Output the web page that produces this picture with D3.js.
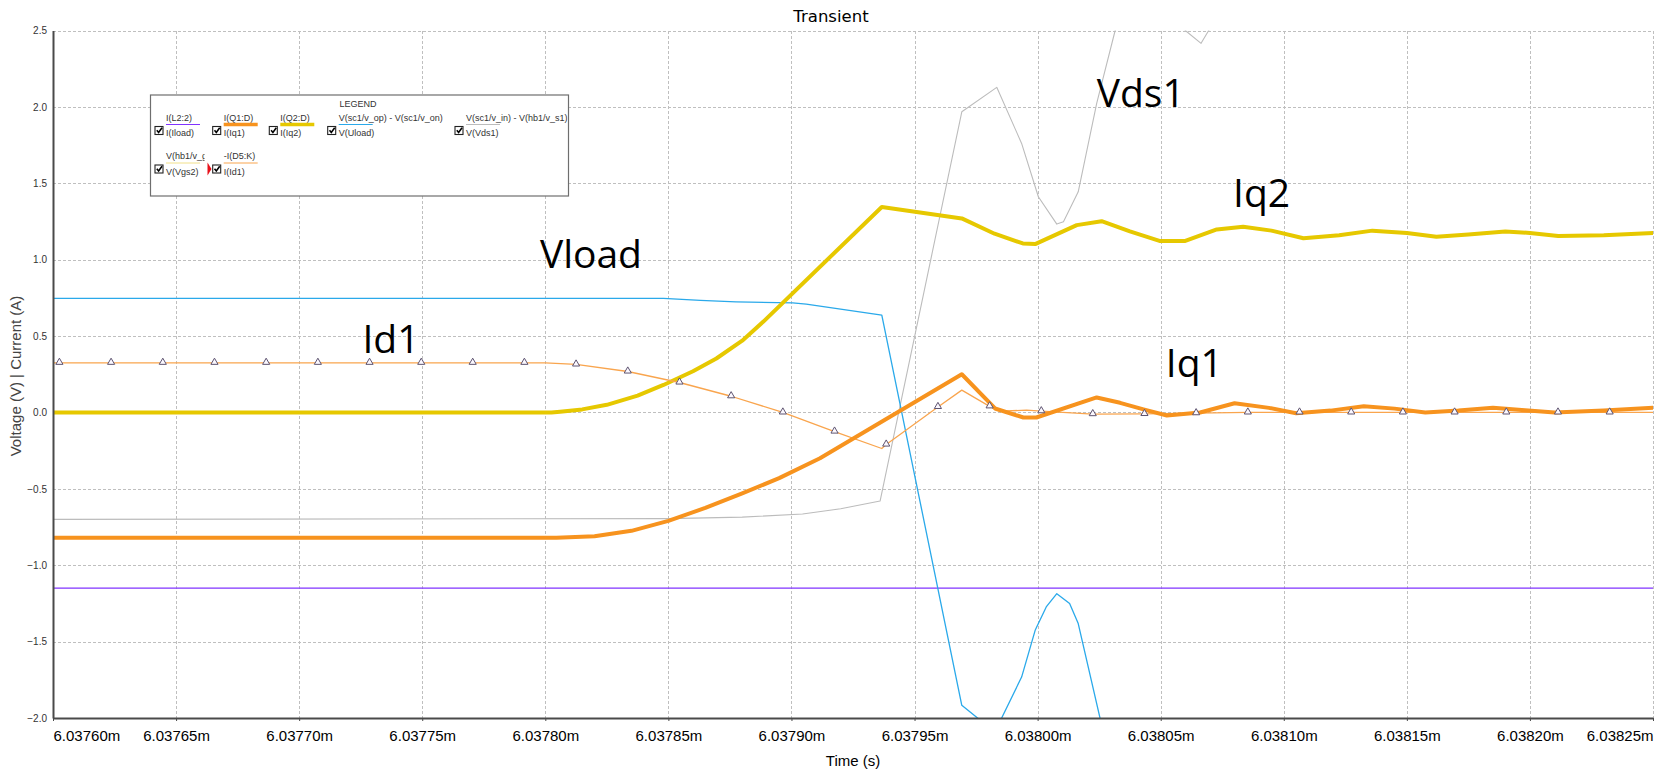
<!DOCTYPE html>
<html>
<head>
<meta charset="utf-8">
<script src="https://cdn.jsdelivr.net/npm/d3@7"></script>
<style>
  body { margin: 0; background: #fff; }
  svg { display: block; }
</style>
</head>
<body>
<svg id="chart" width="1662" height="772"></svg>
<script>
// Time axis in milliseconds (labels carry the "m" suffix)
const xTickValues = [6.03760, 6.03765, 6.03770, 6.03775, 6.03780, 6.03785, 6.03790,
                     6.03795, 6.03800, 6.03805, 6.03810, 6.03815, 6.03820, 6.03825];
const yTickValues = [-2.0, -1.5, -1.0, -0.5, 0.0, 0.5, 1.0, 1.5, 2.0, 2.5];

// I(Iload)
const iloadTime  = [6.0376000, 6.0382500];
const iloadValue = [-1.15, -1.15];

// V(Vds1)
const vds1Time  = [6.0376000, 6.0378500, 6.0378800, 6.0379045, 6.0379200, 6.0379360, 6.0379692,
                   6.0379834, 6.0379935, 6.0380003, 6.0380078, 6.0380105, 6.0380165, 6.0380240,
                   6.0380315, 6.0380475, 6.0380600, 6.0380664, 6.0380695, 6.0380900, 6.0382500];
const vds1Value = [-0.70, -0.695, -0.685, -0.665, -0.63, -0.58, 1.968,
                   2.128, 1.761, 1.412, 1.233, 1.248, 1.444, 2.023,
                   2.50, 2.95, 2.50, 2.416, 2.50, 3.00, 3.00];

// V(Uload)
const uloadTime  = [6.0376000, 6.0378480, 6.0378630, 6.0378775, 6.0379005, 6.0379060, 6.0379367,
                    6.0379692, 6.0379759, 6.0379800, 6.0379854, 6.0379935, 6.0379990, 6.0380035,
                    6.0380078, 6.0380130, 6.0380165, 6.0380254, 6.0380350];
const uloadValue = [0.746, 0.746, 0.733, 0.724, 0.717, 0.709, 0.637,
                    -1.917, -2.004, -2.06, -2.0, -1.732, -1.426, -1.273,
                    -1.186, -1.251, -1.382, -2.004, -2.6];

// I(Iq2)
const iq2Time  = [6.0376000, 6.0378025, 6.0378060, 6.0378150, 6.0378250, 6.0378375, 6.0378480,
                  6.0378600, 6.0378695, 6.0378800, 6.0378885, 6.0379367, 6.0379692, 6.0379825,
                  6.0379940, 6.0379990, 6.0380159, 6.0380260, 6.0380375, 6.0380495, 6.0380600,
                  6.0380728, 6.0380835, 6.0380950, 6.0381080, 6.0381225, 6.0381360, 6.0381500,
                  6.0381620, 6.0381750, 6.0381900, 6.0382000, 6.0382115, 6.0382300, 6.0382500];
const iq2Value = [0.0, 0.0, 0.005, 0.02, 0.05, 0.11, 0.18,
                  0.27, 0.353, 0.47, 0.593, 1.345, 1.27, 1.17,
                  1.106, 1.102, 1.226, 1.252, 1.185, 1.123, 1.123,
                  1.198, 1.215, 1.19, 1.14, 1.16, 1.19, 1.175,
                  1.15, 1.165, 1.185, 1.175, 1.155, 1.16, 1.175];

// -I(D5:K) = I(Id1)
const id1Time  = [6.0376000, 6.0376026, 6.0376236, 6.0376446, 6.0376656, 6.0376866, 6.0377076,
                  6.0377286, 6.0377496, 6.0377705, 6.0377915, 6.0378000, 6.0378125, 6.0378335,
                  6.0378545, 6.0378755, 6.0378965, 6.0379175, 6.0379367, 6.0379385, 6.0379595,
                  6.0379692, 6.0379805, 6.0379847, 6.0379955, 6.0380015, 6.0380224, 6.0380434,
                  6.0380644, 6.0380854, 6.0381064, 6.0381274, 6.0381484, 6.0381694, 6.0381904,
                  6.0382114, 6.0382324, 6.0382500];
const id1Value = [0.325, 0.325, 0.325, 0.325, 0.325, 0.325, 0.325,
                  0.325, 0.325, 0.325, 0.325, 0.325, 0.314, 0.268,
                  0.196, 0.106, 0.0, -0.125, -0.236, -0.21, 0.036,
                  0.146, 0.04, 0.008, 0.015, 0.008, -0.011, -0.010,
                  -0.005, 0.0, 0.0, 0.0, 0.0, 0.0, 0.0,
                  0.0, 0.0, 0.0];
// Sample points that carry a triangle marker
const id1MarkerTime = [6.0376026, 6.0376236, 6.0376446, 6.0376656, 6.0376866, 6.0377076, 6.0377286,
                       6.0377496, 6.0377705, 6.0377915, 6.0378125, 6.0378335, 6.0378545, 6.0378755,
                       6.0378965, 6.0379175, 6.0379385, 6.0379595, 6.0379805, 6.0380015, 6.0380224,
                       6.0380434, 6.0380644, 6.0380854, 6.0381064, 6.0381274, 6.0381484, 6.0381694,
                       6.0381904, 6.0382114, 6.0382324];

// I(Iq1)
const iq1Time  = [6.0376000, 6.0378045, 6.0378200, 6.0378350, 6.0378500, 6.0378650, 6.0378800,
                  6.0378950, 6.0379116, 6.0379692, 6.0379827, 6.0379942, 6.0379995, 6.0380240,
                  6.0380335, 6.0380430, 6.0380525, 6.0380660, 6.0380800, 6.0380940, 6.0381050,
                  6.0381190, 6.0381325, 6.0381450, 6.0381575, 6.0381710, 6.0381850, 6.0381980,
                  6.0382100, 6.0382300, 6.0382500];
const iq1Value = [-0.82, -0.82, -0.81, -0.775, -0.71, -0.625, -0.53,
                  -0.43, -0.30, 0.25, 0.026, -0.033, -0.033, 0.098,
                  0.063, 0.02, -0.02, 0.0, 0.06, 0.03, -0.005,
                  0.012, 0.04, 0.025, 0.0, 0.012, 0.03, 0.015,
                  0.0, 0.012, 0.03];

// Legend entries: probe expression, alias, colour, stroke width
const legendTop    = ["I(L2:2)", "I(Q1:D)", "I(Q2:D)", "V(sc1/v_op) - V(sc1/v_on)",
                      "V(sc1/v_in) - V(hb1/v_s1)", "V(hb1/v_g", "-I(D5:K)"];
const legendBottom = ["I(Iload)", "I(Iq1)", "I(Iq2)", "V(Uload)", "V(Vds1)", "V(Vgs2)", "I(Id1)"];
const legendColor  = ["#8033ff", "#f7931e", "#e6c800", "#2aa9ea", "#bcbcbc", "#f1e08a", "#f9a54e"];
const legendWidth  = [1, 3.5, 3.5, 1, 1, 1, 1];

// Curve name labels (anchored at their baseline start)
const curveLabels = [
  { text: "Vds1",  t: 6.0380240, v: 2.000 },
  { text: "Iq2",   t: 6.0380794, v: 1.344 },
  { text: "Vload", t: 6.0377978, v: 0.943 },
  { text: "Id1",   t: 6.0377257, v: 0.390 },
  { text: "Iq1",   t: 6.0380521, v: 0.232 }
];

const W = 1662, H = 772;
const margin = { left: 53, right: 9, top: 30.5, bottom: 54 };
const x = d3.scaleLinear().domain([xTickValues[0], xTickValues[xTickValues.length - 1]])
  .range([margin.left, W - margin.right]);
const y = d3.scaleLinear().domain([-2.0, 2.5]).range([H - margin.bottom, margin.top]);

const svg = d3.select("#chart");
const FONT = "'Liberation Sans', Arial, sans-serif";

svg.append("defs").append("clipPath").attr("id", "plotClip")
  .append("rect")
  .attr("x", x.range()[0]).attr("y", y.range()[1])
  .attr("width", x.range()[1] - x.range()[0])
  .attr("height", y.range()[0] - y.range()[1]);

// Title
svg.append("text").attr("x", W / 2).attr("y", 21.5)
  .attr("text-anchor", "middle")
  .attr("font-family", "'DejaVu Sans', sans-serif").attr("font-size", 16.5)
  .attr("fill", "#000").text("Transient");

// Grid
const grid = svg.append("g").attr("stroke", "#bfbfbf").attr("stroke-width", 1)
  .attr("stroke-dasharray", "3,2").attr("shape-rendering", "crispEdges");
grid.selectAll("line.v").data(xTickValues.slice(1)).join("line").attr("class", "v")
  .attr("x1", d => Math.round(x(d)) + 0.5).attr("x2", d => Math.round(x(d)) + 0.5)
  .attr("y1", y.range()[1]).attr("y2", y.range()[0]);
grid.selectAll("line.h").data(yTickValues.filter(d => d > -2)).join("line").attr("class", "h")
  .attr("y1", d => Math.round(y(d)) + 0.5).attr("y2", d => Math.round(y(d)) + 0.5)
  .attr("x1", x.range()[0]).attr("x2", x.range()[1]);

// Series
const plot = svg.append("g").attr("clip-path", "url(#plotClip)");
const line = d3.line().x(d => x(d[0])).y(d => y(d[1]));
const zip = (ts, vs) => ts.map((t, i) => [t, vs[i]]);

function drawSeries(ts, vs, color, width) {
  plot.append("path").datum(zip(ts, vs))
    .attr("fill", "none").attr("stroke", color).attr("stroke-width", width)
    .attr("stroke-linejoin", "round").attr("stroke-linecap", "round")
    .attr("d", line);
}
drawSeries(iloadTime, iloadValue, legendColor[0], 1.3);
drawSeries(vds1Time, vds1Value, legendColor[4], 1.1);
drawSeries(uloadTime, uloadValue, legendColor[3], 1.3);
drawSeries(iq2Time, iq2Value, legendColor[2], 4);
drawSeries(id1Time, id1Value, legendColor[6], 1.3);
drawSeries(iq1Time, iq1Value, legendColor[1], 4);

// Markers on I(Id1)
const id1Lookup = new Map(id1Time.map((t, i) => [t, id1Value[i]]));
const tri = d3.symbol().type(d3.symbolTriangle).size(22);
plot.selectAll("path.marker").data(id1MarkerTime).join("path").attr("class", "marker")
  .attr("transform", d => `translate(${x(d)},${y(id1Lookup.get(d)) - 0.5})`)
  .attr("d", tri).attr("fill", "#fbf8ff").attr("stroke", "#5e5470").attr("stroke-width", 1);

// Axes
const xAxis = svg.append("g").attr("transform", `translate(0,${y.range()[0]})`)
  .call(d3.axisBottom(x).tickValues(xTickValues)
    .tickFormat(d => d3.format(".5f")(d) + "m").tickSize(3).tickSizeOuter(0).tickPadding(9));
xAxis.select(".domain").attr("stroke", "#4a4a4a").attr("stroke-width", 2);
xAxis.selectAll(".tick line").attr("stroke", "#4a4a4a");
xAxis.selectAll("text").attr("font-family", FONT).attr("font-size", 15).attr("fill", "#000");
xAxis.selectAll(".tick").filter((d, i) => i === 0).select("text").attr("text-anchor", "start");
xAxis.selectAll(".tick").filter((d, i) => i === xTickValues.length - 1).select("text").attr("text-anchor", "end");

const yAxis = svg.append("g").attr("transform", `translate(${x.range()[0]},0)`)
  .call(d3.axisLeft(y).tickValues(yTickValues).tickFormat(d3.format(".1f"))
    .tickSize(0).tickPadding(6));
yAxis.select(".domain").attr("stroke", "#4a4a4a").attr("stroke-width", 2);
yAxis.selectAll("text").attr("font-family", FONT).attr("font-size", 10).attr("fill", "#333");

svg.append("text").attr("x", (x.range()[0] + x.range()[1]) / 2).attr("y", 766)
  .attr("text-anchor", "middle").attr("font-family", FONT).attr("font-size", 15)
  .attr("fill", "#000").text("Time (s)");
svg.append("text").attr("transform", "translate(21,376) rotate(-90)")
  .attr("text-anchor", "middle").attr("font-family", FONT).attr("font-size", 15)
  .attr("fill", "#444").text("Voltage (V) | Current (A)");

// Curve names
svg.append("g").selectAll("text").data(curveLabels).join("text")
  .attr("x", d => x(d.t)).attr("y", d => y(d.v))
  .attr("font-family", "'Open Sans', 'Noto Sans', sans-serif").attr("font-size", 39)
  .attr("fill", "#000").text(d => d.text);

// Legend
const lg = svg.append("g");
const box = { x: 150.5, y: 95, w: 418, h: 101 };
lg.append("rect").attr("x", box.x).attr("y", box.y).attr("width", box.w).attr("height", box.h)
  .attr("fill", "#fff").attr("stroke", "#6e6e6e").attr("stroke-width", 1.2);
lg.append("text").attr("x", 358).attr("y", 106.5).attr("text-anchor", "middle")
  .attr("font-family", FONT).attr("font-size", 9).attr("fill", "#333").text("LEGEND");

const colX = [155, 212.7, 269.3, 327.7, 455];
const cells = [
  { col: 0, row: 0 }, { col: 1, row: 0 }, { col: 2, row: 0 }, { col: 3, row: 0 }, { col: 4, row: 0 },
  { col: 0, row: 1 }, { col: 1, row: 1 }
];
const rowY = [0, 38.5];
const defs = svg.select("defs");
cells.forEach((c, i) => {
  const cx = colX[c.col], oy = rowY[c.row];
  const labelX = cx + 11;
  const clipRight = c.col < colX.length - 1 ? colX[c.col + 1] - 8 : box.x + box.w - 1;
  defs.append("clipPath").attr("id", "lgClip" + i).append("rect")
    .attr("x", labelX - 1).attr("y", 108 + oy).attr("width", clipRight - labelX + 1).attr("height", 32);
  const g = lg.append("g");
  // checkbox
  g.append("rect").attr("x", cx).attr("y", 126.5 + oy).attr("width", 8).attr("height", 8)
    .attr("fill", "#fff").attr("stroke", "#222").attr("stroke-width", 1.1);
  g.append("path").attr("d", `M${cx + 1.8},${130.3 + oy} L${cx + 3.6},${132.4 + oy} L${cx + 7},${127.8 + oy}`)
    .attr("fill", "none").attr("stroke", "#000").attr("stroke-width", 1.6);
  const tg = g.append("g").attr("clip-path", `url(#lgClip${i})`);
  tg.append("text").attr("x", labelX).attr("y", 120.5 + oy)
    .attr("font-family", FONT).attr("font-size", 9).attr("fill", "#333").text(legendTop[i]);
  tg.append("text").attr("x", labelX).attr("y", 136 + oy)
    .attr("font-family", FONT).attr("font-size", 9).attr("fill", "#333").text(legendBottom[i]);
  g.append("line").attr("x1", labelX).attr("x2", labelX + 34)
    .attr("y1", 124.5 + oy).attr("y2", 124.5 + oy)
    .attr("stroke", legendColor[i]).attr("stroke-width", legendWidth[i]);
});
// selection flag beside the active entry
lg.append("path").attr("d", "M207.5,162.5 L211.5,169 L207.5,175.5 Z").attr("fill", "#e8101a");
</script>
</body>
</html>
